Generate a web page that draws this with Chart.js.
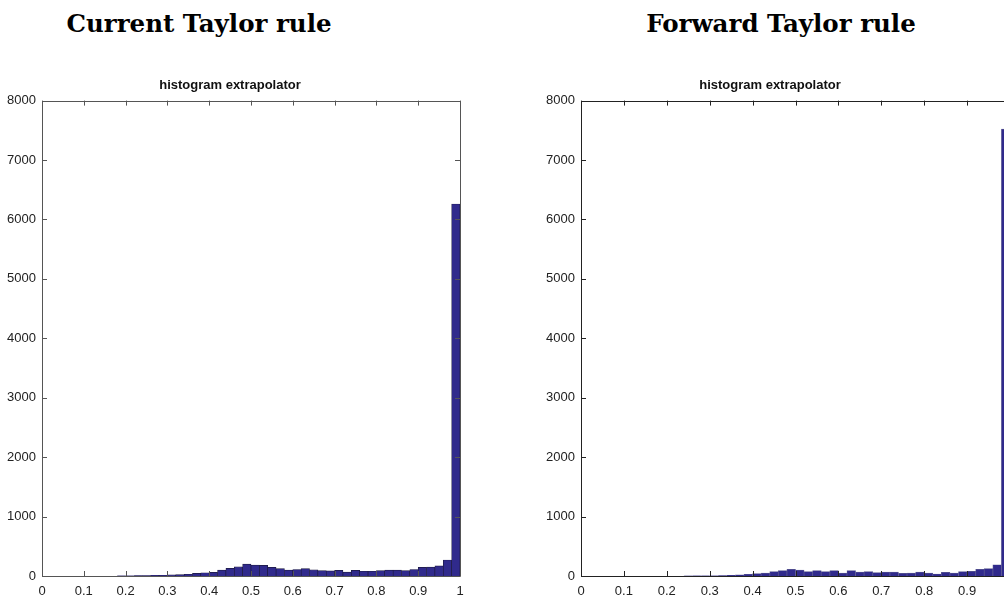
<!DOCTYPE html>
<html>
<head>
<meta charset="utf-8">
<script src="https://cdn.jsdelivr.net/npm/chart.js@4.4.1/dist/chart.umd.min.js"></script>
<style>
  html, body { margin: 0; padding: 0; background: #fff; overflow: hidden; width: 1004px; height: 605px; }
  .panel { position: absolute; top: 0; height: 605px; }
  .heading {
    position: absolute; top: 9px; line-height: 30px;
    font-family: 'DejaVu Serif', 'Liberation Serif', serif; font-weight: bold; font-size: 24.5px;
    color: #000; white-space: nowrap; transform: translateX(-50%);
  }
</style>
</head>
<body>
<div class="heading" style="left:199px">Current Taylor rule</div>
<div class="heading" style="left:781px">Forward Taylor rule</div>
<div class="panel" style="left:0; width:480px;"><canvas id="current" width="480" height="605"></canvas></div>
<div class="panel" style="left:530px; width:500px;"><canvas id="forward" width="500" height="605"></canvas></div>

<script>
// Histogram bins: centres of the 50 bins of width 0.02 on [0, 1]
const binCenters = [
  0.01, 0.03, 0.05, 0.07, 0.09, 0.11, 0.13, 0.15, 0.17, 0.19,
  0.21, 0.23, 0.25, 0.27, 0.29, 0.31, 0.33, 0.35, 0.37, 0.39,
  0.41, 0.43, 0.45, 0.47, 0.49, 0.51, 0.53, 0.55, 0.57, 0.59,
  0.61, 0.63, 0.65, 0.67, 0.69, 0.71, 0.73, 0.75, 0.77, 0.79,
  0.81, 0.83, 0.85, 0.87, 0.89, 0.91, 0.93, 0.95, 0.97, 0.99
];

// Counts per bin, current Taylor rule
const currentCounts = [
  0, 0, 0, 0, 0, 0, 0, 0, 0, 2,
  3, 5, 8, 10, 12, 18, 25, 30, 45, 55,
  62, 100, 130, 155, 200, 185, 180, 145, 125, 100,
  110, 125, 105, 90, 85, 95, 65, 95, 80, 80,
  90, 100, 100, 90, 110, 145, 150, 170, 270, 6260
];

// Counts per bin, forward Taylor rule
const forwardCounts = [
  0, 0, 0, 0, 0, 0, 0, 0, 0, 0,
  0, 0, 1, 2, 3, 4, 5, 10, 20, 30,
  39, 50, 73, 90, 112, 100, 73, 90, 73, 90,
  50, 90, 67, 73, 56, 67, 67, 45, 50, 67,
  50, 34, 62, 50, 73, 78, 112, 123, 190, 7520
];

const xTickValues = [0, 0.1, 0.2, 0.3, 0.4, 0.5, 0.6, 0.7, 0.8, 0.9, 1];
const xTickLabels = ['0', '0.1', '0.2', '0.3', '0.4', '0.5', '0.6', '0.7', '0.8', '0.9', '1'];
const yTickValues = [0, 1000, 2000, 3000, 4000, 5000, 6000, 7000, 8000];
const yTickLabels = ['0', '1000', '2000', '3000', '4000', '5000', '6000', '7000', '8000'];

const panelTitle = 'histogram extrapolator';
const barFill = '#302a8c';
const tickFont = "'Liberation Sans Narrow', 'Liberation Sans', Arial, sans-serif";

// Box frame with inward tick marks on all four sides
const boxFrame = {
  id: 'boxFrame',
  afterDraw(chart, args, opts) {
    const { ctx, chartArea: a, scales } = chart;
    const len = 5;
    ctx.save();
    ctx.strokeStyle = opts.color;
    ctx.lineWidth = 1;
    ctx.beginPath();
    ctx.rect(Math.round(a.left) + 0.5, Math.round(a.top) + 0.5,
             Math.round(a.right - a.left), Math.round(a.bottom - a.top));
    for (const v of xTickValues) {
      const px = Math.round(scales.x.getPixelForValue(v)) + 0.5;
      ctx.moveTo(px, a.bottom); ctx.lineTo(px, a.bottom - len);
      ctx.moveTo(px, a.top); ctx.lineTo(px, a.top + len);
    }
    for (const v of yTickValues) {
      const py = Math.round(scales.y.getPixelForValue(v)) + 0.5;
      ctx.moveTo(a.left, py); ctx.lineTo(a.left + len, py);
      ctx.moveTo(a.right, py); ctx.lineTo(a.right - len, py);
    }
    ctx.stroke();
    ctx.restore();
  }
};

function histogram(canvasId, counts, pad, frameColor, edgeColor) {
  const points = binCenters.map((x, i) => ({ x, y: counts[i] }));
  return new Chart(document.getElementById(canvasId), {
    type: 'bar',
    data: {
      datasets: [{
        data: points,
        backgroundColor: barFill,
        borderColor: edgeColor,
        borderWidth: 0.7,
        barPercentage: 1,
        categoryPercentage: 1,
        grouped: false
      }]
    },
    options: {
      responsive: false,
      animation: false,
      events: [],
      layout: { padding: pad },
      plugins: {
        legend: { display: false },
        tooltip: { enabled: false },
        title: {
          display: true,
          text: panelTitle,
          color: '#111',
          font: { family: tickFont, size: 13, weight: 'bold', lineHeight: 1.2 },
          padding: { top: 0, bottom: 7 }
        },
        boxFrame: { color: frameColor }
      },
      scales: {
        x: {
          type: 'linear',
          min: 0, max: 1,
          offset: false,
          grid: { display: false, drawTicks: false },
          border: { display: false },
          afterBuildTicks: s => { s.ticks = xTickValues.map(v => ({ value: v })); },
          afterFit: s => { s.height = 29; },
          ticks: {
            padding: 8,
            color: '#222',
            maxRotation: 0,
            autoSkip: false,
            font: { family: tickFont, size: 13 },
            callback: (v, i) => xTickLabels[i]
          }
        },
        y: {
          min: 0, max: 8000,
          grid: { display: false, drawTicks: false },
          border: { display: false },
          afterBuildTicks: s => { s.ticks = yTickValues.map(v => ({ value: v })); },
          afterFit: s => { s.width = pad.yWidth; },
          ticks: {
            padding: 6,
            color: '#222',
            autoSkip: false,
            font: { family: tickFont, size: 13 },
            callback: (v, i) => yTickLabels[i]
          }
        }
      }
    },
    plugins: [boxFrame]
  });
}

histogram('current', currentCounts,
  { left: 0, right: 20, top: 78, bottom: 0, yWidth: 42 }, '#555', '#1c1a40');
histogram('forward', forwardCounts,
  { left: 0, right: 20, top: 78, bottom: 0, yWidth: 51 }, '#222', '#5a5890');
</script>
</body>
</html>
